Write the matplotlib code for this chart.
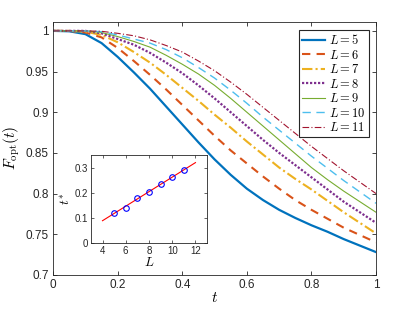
import numpy as np
import matplotlib
matplotlib.use('Agg')
import matplotlib.pyplot as plt

plt.rcParams['font.family'] = ['Liberation Sans', 'DejaVu Sans']
plt.rcParams['mathtext.fontset'] = 'cm'

# Tempo
t = [0.00, 0.05, 0.10, 0.15, 0.20, 0.25, 0.30, 0.35, 0.40, 0.45, 0.50,
     0.55, 0.60, 0.65, 0.70, 0.75, 0.80, 0.85, 0.90, 0.95, 1.00]

# Fidelidade otima para cada L
F5 = [1.000, 0.9995, 0.996, 0.985, 0.968, 0.949, 0.929, 0.907, 0.885, 0.863, 0.842,
      0.823, 0.806, 0.792, 0.780, 0.770, 0.761, 0.753, 0.744, 0.736, 0.728]
F6 = [1.000, 1.000, 0.998, 0.992, 0.979, 0.963, 0.946, 0.928, 0.909, 0.890, 0.871,
      0.853, 0.837, 0.821, 0.806, 0.792, 0.780, 0.769, 0.758, 0.749, 0.740]
F7 = [1.000, 1.000, 0.999, 0.995, 0.986, 0.974, 0.961, 0.946, 0.930, 0.914, 0.897,
      0.881, 0.864, 0.848, 0.832, 0.818, 0.805, 0.791, 0.777, 0.764, 0.751]
F8 = [1.000, 1.000, 1.000, 0.997, 0.990, 0.983, 0.973, 0.961, 0.948, 0.933, 0.917,
      0.900, 0.883, 0.866, 0.850, 0.835, 0.820, 0.805, 0.790, 0.777, 0.764]
F9 = [1.000, 1.000, 1.000, 0.998, 0.993, 0.987, 0.980, 0.970, 0.959, 0.947, 0.933,
      0.917, 0.900, 0.883, 0.866, 0.849, 0.832, 0.817, 0.803, 0.790, 0.777]
F10 = [1.000, 1.000, 1.000, 0.999, 0.995, 0.990, 0.985, 0.977, 0.967, 0.955, 0.942,
       0.927, 0.911, 0.894, 0.878, 0.862, 0.846, 0.831, 0.816, 0.802, 0.788]
F11 = [1.000, 1.000, 1.000, 0.9995, 0.997, 0.994, 0.989, 0.982, 0.974, 0.963, 0.951,
       0.937, 0.922, 0.906, 0.890, 0.874, 0.858, 0.843, 0.828, 0.814, 0.800]

# Inset: t* em funcao de L
Ls = [5, 6, 7, 8, 9, 10, 11]
tstar = [0.120, 0.140, 0.180, 0.203, 0.236, 0.263, 0.289]

curvas = [F5, F6, F7, F8, F9, F10, F11]
cores = ['#0072BD', '#D95319', '#EDB120', '#7E2F8E', '#77AC30', '#4DBEEE', '#A2142F']
estilos = ['-', (0, (4, 3)), (0, (5, 1.5, 1, 1.5)), (0, (1, 0.8)), '-', (0, (6, 4)), (0, (6, 2, 1, 2))]
larguras = [1.6, 1.5, 1.5, 1.6, 0.8, 1.0, 0.8]

fig = plt.figure(figsize=(4.15, 3.12), dpi=100)
ax = fig.add_axes([0.128, 0.119, 0.778, 0.812])

for L, F, c, ls, lw in zip(Ls, curvas, cores, estilos, larguras):
    ax.plot(t, F, color=c, linestyle=ls, linewidth=lw, label='$L = %d$' % L)

ax.set_xlim(0, 1)
ax.set_ylim(0.7, 1.0115)
ax.set_xticks([0, 0.2, 0.4, 0.6, 0.8, 1])
ax.set_xticklabels(['0', '0.2', '0.4', '0.6', '0.8', '1'])
ax.set_yticks([0.7, 0.75, 0.8, 0.85, 0.9, 0.95, 1])
ax.set_yticklabels(['0.7', '0.75', '0.8', '0.85', '0.9', '0.95', '1'])
ax.tick_params(direction='in', top=True, right=True, labelsize=8.5, length=3,
               color='#262626', labelcolor='#262626', width=0.6, pad=3)
for s in ax.spines.values():
    s.set_color('#262626')
    s.set_linewidth(0.6)
ax.set_xlabel('$t$', fontsize=11, labelpad=0)
ax.set_ylabel(r'$F_{\rm opt}(t)$', fontsize=11, labelpad=3)

leg = ax.legend(loc='upper right', bbox_to_anchor=(0.978, 0.967), borderaxespad=0,
                fancybox=False, edgecolor='#262626', fontsize=9, handlelength=1.8,
                handletextpad=0.35, labelspacing=0.12, borderpad=0.25, framealpha=1)
leg.get_frame().set_linewidth(0.8)

# Inset
axi = fig.add_axes([0.219, 0.221, 0.280, 0.282])
coef = np.polyfit(Ls, tstar, 1)
Lfit = np.array([4, 12])
axi.plot(Lfit, np.polyval(coef, Lfit), color='red', linewidth=0.8)
axi.plot(Ls, tstar, 'o', markerfacecolor='none', markeredgecolor='blue',
         markersize=4, markeredgewidth=0.8)
axi.set_xlim(3, 13)
axi.set_ylim(0, 0.35)
axi.set_xticks([4, 6, 8, 10, 12])
axi.set_yticks([0, 0.1, 0.2, 0.3])
axi.set_yticklabels(['0', '0.1', '0.2', '0.3'])
axi.tick_params(direction='in', top=True, right=True, labelsize=7, length=2,
                color='#262626', labelcolor='#262626', width=0.5, pad=2)
for s in axi.spines.values():
    s.set_color('#262626')
    s.set_linewidth(0.6)
axi.set_xlabel('$L$', fontsize=9.5, labelpad=0)
axi.set_ylabel('$t^{*}$', fontsize=9.5, labelpad=1)

fig.savefig('out.png', dpi=100)
